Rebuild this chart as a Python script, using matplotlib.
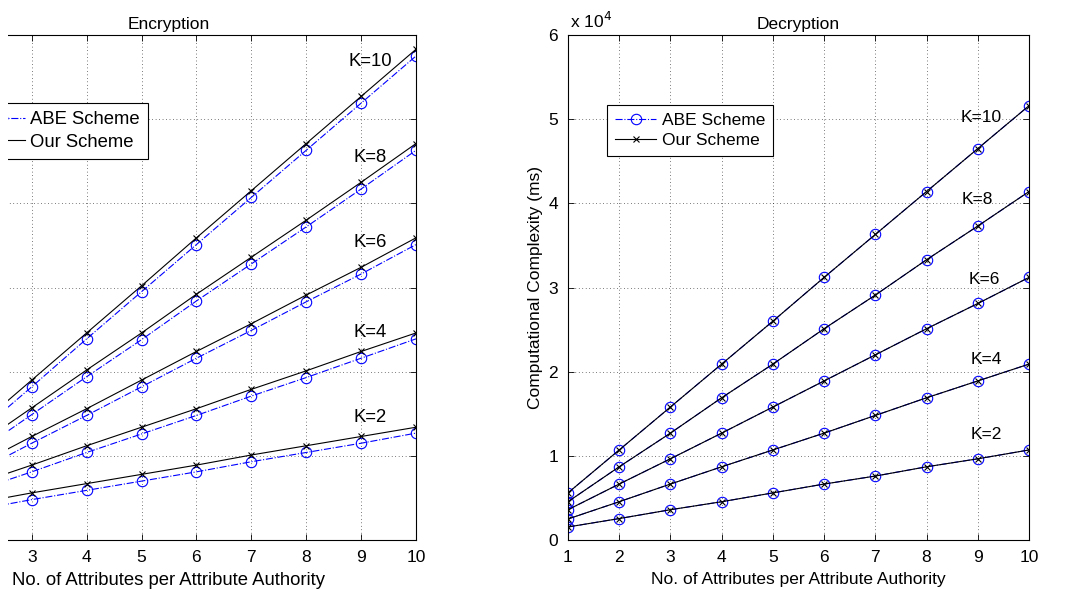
import matplotlib.pyplot as plt
from matplotlib.patches import Rectangle
import numpy as np

plt.rcParams['font.family'] = ['Liberation Sans', 'DejaVu Sans']

attrs = [1, 2, 3, 4, 5, 6, 7, 8, 9, 10]
k_values = [2, 4, 6, 8, 10]

# encryption cost (ms)
enc_our = {
    2: [3300, 4400, 5600, 6700, 7800, 8900, 10100, 11200, 12300, 13400],
    4: [4400, 6700, 8900, 11200, 13400, 15600, 17900, 20100, 22400, 24600],
    6: [5600, 8900, 12300, 15600, 19000, 22400, 25700, 29100, 32400, 35900],
    8: [6700, 11200, 15700, 20200, 24600, 29200, 33600, 38000, 42500, 47100],
    10: [7800, 13400, 19000, 24600, 30200, 35900, 41500, 47100, 52700, 58300],
}
enc_abe = {
    2: [2500, 3600, 4800, 5900, 7000, 8100, 9300, 10400, 11500, 12700],
    4: [3600, 5900, 8100, 10400, 12600, 14800, 17100, 19300, 21600, 23900],
    6: [4800, 8100, 11500, 14800, 18200, 21600, 24900, 28300, 31600, 35100],
    8: [5900, 10400, 14900, 19400, 23800, 28400, 32800, 37200, 41700, 46300],
    10: [7000, 12600, 18200, 23900, 29500, 35100, 40700, 46300, 51900, 57500],
}
# decryption cost (ms), both schemes coincide
dec_our = {
    2: [1550, 2550, 3600, 4550, 5600, 6650, 7600, 8700, 9650, 10700],
    4: [2500, 4550, 6650, 8700, 10700, 12700, 14800, 16900, 18900, 20900],
    6: [3600, 6650, 9650, 12700, 15800, 18900, 22000, 25100, 28100, 31200],
    8: [4550, 8700, 12700, 16900, 20900, 25100, 29100, 33300, 37300, 41400],
    10: [5600, 10700, 15800, 20900, 26000, 31200, 36300, 41400, 46500, 51600],
}
dec_abe = dec_our

enc_label_pos = {10: (9.16, 56800), 8: (9.16, 45400), 6: (9.16, 35300), 4: (9.16, 24700), 2: (9.16, 14600)}
dec_label_pos = {10: (9.07, 50200), 8: (8.99, 40400), 6: (9.12, 31000), 4: (9.16, 21400), 2: (9.16, 12500)}

fig = plt.figure(figsize=(10.81, 5.9), dpi=100)
ax1 = fig.add_axes([-0.0722, 0.0847, 0.4570, 0.856])
ax2 = fig.add_axes([0.5254, 0.0847, 0.4265, 0.856])


def style(ax, title, fs):
    ax.set_xlim(1, 10)
    ax.set_ylim(0, 60000)
    ax.set_xticks(attrs)
    ax.set_yticks(np.arange(0, 60001, 10000))
    ax.set_yticklabels(['0', '1', '2', '3', '4', '5', '6'])
    ax.tick_params(direction='in', top=True, right=True, labelsize=12.5, length=4, width=0.6, pad=7)
    ax.grid(True, color='black', linestyle=(0, (1, 4)), linewidth=0.5)
    for s in ax.spines.values():
        s.set_linewidth(0.8)
    ax.set_title(title, fontsize=12.5, pad=4)
    ax.set_xlabel('No. of Attributes per Attribute Authority', fontsize=fs, labelpad=5)


for ax, abe, our, lpos, title, fs in [(ax1, enc_abe, enc_our, enc_label_pos, 'Encryption', 13.3),
                                      (ax2, dec_abe, dec_our, dec_label_pos, 'Decryption', 12.5)]:
    for k in k_values:
        ax.plot(attrs, abe[k], color='#0000ff', linestyle='-.', linewidth=0.8,
                marker='o', markersize=7.5, markerfacecolor='none', markeredgewidth=0.8,
                label='ABE Scheme' if k == 2 else None)
        ax.plot(attrs, our[k], color='black', linestyle='-', linewidth=0.8,
                marker='x', markersize=5, markeredgewidth=0.8,
                label='Our Scheme' if k == 2 else None)
        ax.text(lpos[k][0], lpos[k][1], 'K=%d' % k, fontsize=fs, ha='center', va='center')
    style(ax, title, fs)

# left panel is cut at the figure edge: its y labels and first x labels are not shown
ax1.set_yticklabels([])
ax1.set_xticklabels(['', '', '3', '4', '5', '6', '7', '8', '9', '10'])

ax2.set_ylabel('Computational Complexity (ms)', fontsize=12.5, labelpad=4)
ax2.text(0.005, 1.008, r'x 10$^4$', transform=ax2.transAxes, fontsize=12.5, ha='left', va='bottom')

for ax, anchor, loc, fs in [(ax1, (148 / 1081, 1 - 103 / 590), 'upper right', 13.3),
                            (ax2, (607 / 1081, 1 - 105 / 590), 'upper left', 12.5)]:
    leg = ax.legend(loc=loc, bbox_to_anchor=anchor, bbox_transform=fig.transFigure,
                    borderaxespad=0, fontsize=fs, fancybox=False, edgecolor='black',
                    framealpha=1, handlelength=2.4, handletextpad=0.3,
                    labelspacing=0.3, borderpad=0.45)
    leg.get_frame().set_linewidth(0.8)

# white strip at the very left edge, as in the original crop
fig.patches.append(Rectangle((0, 0), 8 / 1081, 1, transform=fig.transFigure,
                             facecolor='white', edgecolor='none', zorder=10))

plt.savefig('out.png', dpi=100)
